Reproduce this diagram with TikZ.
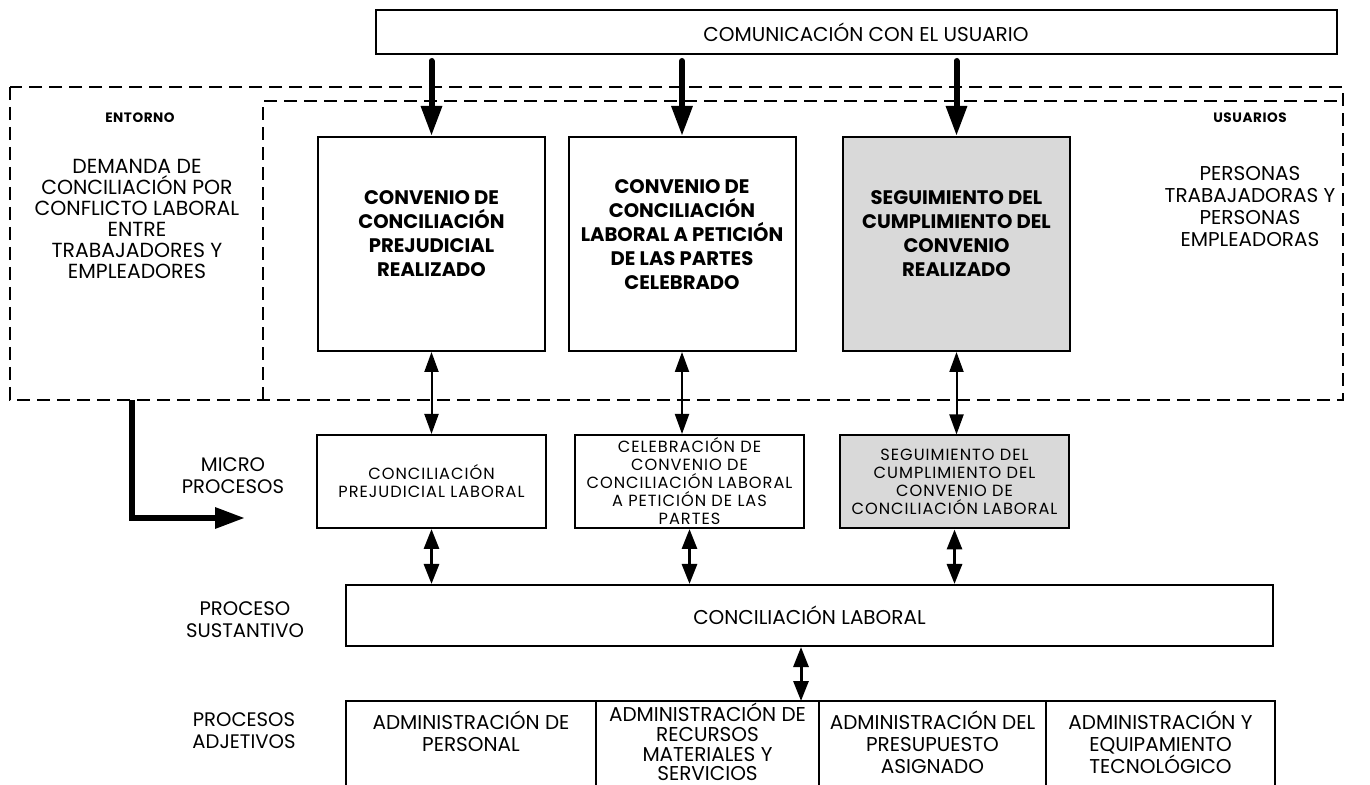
\documentclass[tikz,border=0pt]{standalone}
\usepackage{fontspec}
\setmainfont{Poppins}
\newfontfamily\spaced[LetterSpace=6]{Poppins}
\newfontfamily\tagfont[LetterSpace=4]{Poppins Bold}
\usetikzlibrary{arrows.meta,calc}
\definecolor{boxgray}{HTML}{D9D9D9}
\begin{document}
\begin{tikzpicture}[x=0.5pt,y=-0.5pt,
  box/.style={draw,line width=1pt,rectangle,inner sep=0pt,align=center},
  bigbox/.style={box,minimum width=113.5pt,minimum height=107pt},
  boxtitle/.style={align=center,inner sep=0pt,font=\bfseries\fontsize{9.8}{12}\selectfont},
  microbox/.style={box,minimum width=114.5pt,minimum height=46.5pt,
    font=\spaced\fontsize{8.1}{9}\selectfont},
  lbl/.style={align=center,inner sep=0pt,font=\fontsize{10}{11}\selectfont},
  rowlbl/.style={align=center,inner sep=0pt,font=\fontsize{9.8}{11}\selectfont},
  tag/.style={inner sep=0pt,font=\tagfont\fontsize{6.8}{7}\selectfont},
  container/.style={draw,line width=0.75pt,dash pattern=on 6.5pt off 3.5pt},
  bigarrow/.style={line width=3pt,line cap=round,-{Triangle[width=10pt,length=15pt]}},
  thinarrow/.style={line width=1pt,{Triangle[width=7pt,length=10pt]}-{Triangle[width=7pt,length=10pt]}},
  midarrow/.style={line width=1.5pt,{Triangle[width=7.5pt,length=10pt]}-{Triangle[width=7.5pt,length=10pt]}}]
\useasboundingbox (0,0) rectangle (1370,785);

% communication bar
\node[box,minimum width=480.5pt,minimum height=22pt] (com) at (856.5,32) {};
\node[lbl] (comtext) at (866,32) {COMUNICACIÓN CON EL USUARIO};

% environment and user containers
\draw[container] (10,87) rectangle (1343,400);
\draw[container] (263,400) -- (263,101) -- (1343,101);
\node[tag] (entorno) at (140,118) {ENTORNO};
\node[tag] (usuarios) at (1250,118) {USUARIOS};
\node[lbl,font=\fontsize{10.2}{10.5}\selectfont] (demanda) at (137,219)
  {DEMANDA DE\\CONCILIACIÓN POR\\CONFLICTO LABORAL\\ENTRE\\TRABAJADORES Y\\EMPLEADORES};
\node[lbl] (personas) at (1250,207) {PERSONAS\\TRABAJADORAS Y\\PERSONAS\\EMPLEADORAS};

% products
\node[bigbox] (b1) at (431.5,244) {};
\node[bigbox] (b2) at (682,244) {};
\node[bigbox,fill=boxgray] (b3) at (956.5,244) {};
\node[boxtitle] (b1t) at (431.5,234) {CONVENIO DE\\CONCILIACIÓN\\PREJUDICIAL\\REALIZADO};
\node[boxtitle] (b2t) at (682,235) {CONVENIO DE\\CONCILIACIÓN\\LABORAL A PETICIÓN\\DE LAS PARTES\\CELEBRADO};
\node[boxtitle] (b3t) at (956.5,234) {SEGUIMIENTO DEL\\CUMPLIMIENTO DEL\\CONVENIO\\REALIZADO};

% micro processes
\node[microbox] (m1) at (431.5,481.5) {CONCILIACIÓN\\PREJUDICIAL LABORAL};
\node[microbox] (m2) at (689.5,481.5) {CELEBRACIÓN DE\\CONVENIO DE\\CONCILIACIÓN LABORAL\\A PETICIÓN DE LAS\\PARTES};
\node[microbox,fill=boxgray] (m3) at (954.5,482) {SEGUIMIENTO DEL\\CUMPLIMIENTO DEL\\CONVENIO DE\\CONCILIACIÓN LABORAL};

% substantive process
\node[box,minimum width=463.5pt,minimum height=30.5pt,font=\fontsize{10}{11}\selectfont]
  (sub) at (809.5,615.5) {CONCILIACIÓN LABORAL};

% row labels
\node[rowlbl] (micro) at (233,476) {MICRO\\PROCESOS};
\node[rowlbl] (sust) at (245,620) {PROCESO\\SUSTANTIVO};
\node[rowlbl] (adj) at (244,731) {PROCESOS\\ADJETIVOS};

% adjective processes (open at the bottom)
\draw[line width=1pt] (346,785) -- (346,701) -- (1275,701) -- (1275,785);
\draw[line width=1pt] (596,701) -- (596,785);
\draw[line width=1pt] (819,701) -- (819,785);
\draw[line width=1pt] (1046,701) -- (1046,785);
\node[lbl,anchor=north] (a1) at (471,711) {ADMINISTRACIÓN DE\\PERSONAL};
\node[lbl,anchor=north,font=\fontsize{10}{9.8}\selectfont] (a2) at (707.5,703) {ADMINISTRACIÓN DE\\RECURSOS\\MATERIALES Y\\SERVICIOS};
\node[lbl,anchor=north] (a3) at (932.5,711) {ADMINISTRACIÓN DEL\\PRESUPUESTO\\ASIGNADO};
\node[lbl,anchor=north] (a4) at (1160.5,711) {ADMINISTRACIÓN Y\\EQUIPAMIENTO\\TECNOLÓGICO};
\coordinate (adjtop) at (801,701);

% connectors
\foreach \b in {b1,b2,b3}
  \draw[bigarrow] ([yshift=-3pt]com.south -| \b.north) -- (\b.north);
\draw[thinarrow] (b1.south) -- (b1.south |- m1.north);
\draw[thinarrow] (b2.south) -- (b2.south |- m2.north);
\draw[thinarrow] (b3.south) -- (b3.south |- m3.north);
\foreach \m in {m1,m2,m3}
  \draw[midarrow] (\m.south) -- (\m.south |- sub.north);
\draw[midarrow] (sub.south -| adjtop) -- (adjtop);

\coordinate (lstart) at (132,400);
\coordinate (lend) at (245,518);
\draw[line width=3pt,-{Triangle[width=10pt,length=15pt]}] (lstart) |- (lend);
\end{tikzpicture}
\end{document}
